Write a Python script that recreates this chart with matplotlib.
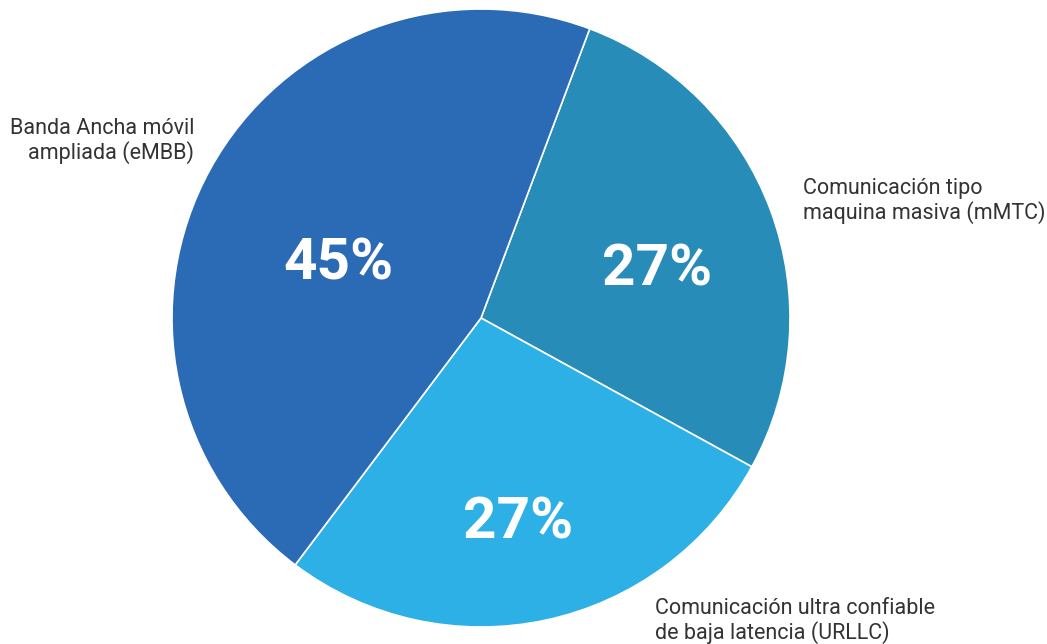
import matplotlib.pyplot as plt

# data
segmentos = ["Comunicación tipo\nmaquina masiva (mMTC)",
             "Comunicación ultra confiable\nde baja latencia (URLLC)",
             "Banda Ancha móvil\nampliada (eMBB)"]
porcentajes = [27, 27, 45]
colores = ["#278cb8", "#2db0e6", "#2b6ab4"]

plt.rcParams['font.family'] = ['Roboto', 'DejaVu Sans']

fig = plt.figure(figsize=(10.47, 6.44), dpi=100)
ax = fig.add_axes([0, 0, 1, 1])

wedges, _ = ax.pie(porcentajes, colors=colores, startangle=69.4, counterclock=False,
                   center=(481, 326), radius=309,
                   wedgeprops=dict(edgecolor='white', linewidth=1.2), frame=True)
ax.set_xlim(0, 1047)
ax.set_ylim(0, 644)
ax.set_aspect('equal')
ax.axis('off')

# percentage labels inside the slices
pos_pct = [(657, 374), (518, 121), (338, 380)]
for (x, y), v in zip(pos_pct, porcentajes):
    ax.text(x, y, f"{v}%", color='white', fontsize=42, fontweight='bold',
            ha='center', va='center')

# outer labels
ax.text(803, 443, segmentos[0], fontsize=15.5, color='#333333', ha='left', va='center',
        linespacing=1.1)
ax.text(655, 23, segmentos[1], fontsize=15.5, color='#333333', ha='left', va='center',
        linespacing=1.1)
ax.text(194, 503, segmentos[2], fontsize=15.5, color='#333333', ha='right', va='center',
        linespacing=1.1, multialignment='right')

plt.savefig("out.png", dpi=100)
